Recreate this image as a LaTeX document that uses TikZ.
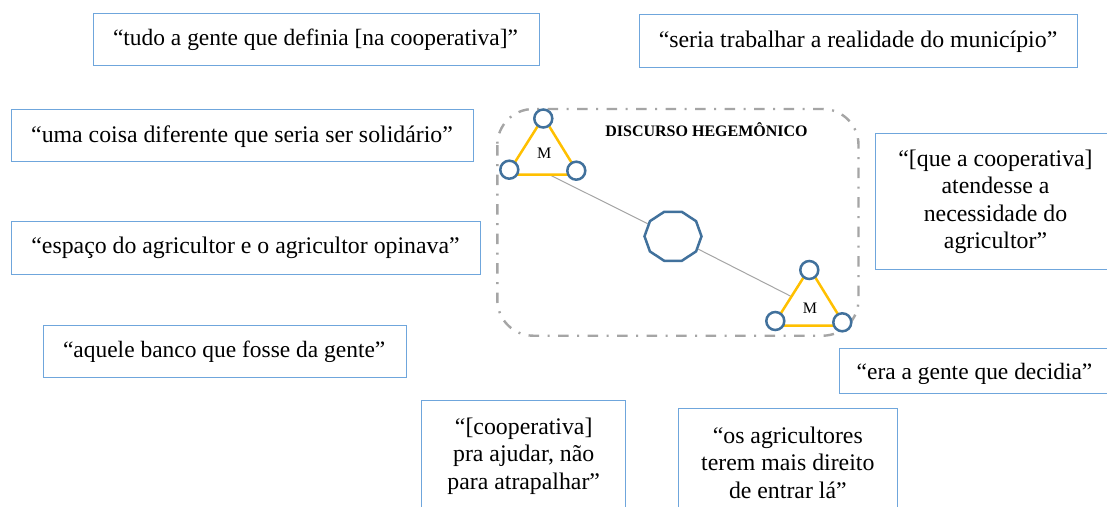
\documentclass[tikz,border=0pt]{standalone}
\usepackage{fontspec}
\setmainfont{Liberation Serif}
\usetikzlibrary{shapes.geometric}
\definecolor{boxblue}{HTML}{6FA6DC}
\definecolor{ringblue}{HTML}{41719C}
\definecolor{triyellow}{HTML}{FFC000}
\definecolor{midgray}{HTML}{A5A5A5}
\tikzset{
  quote/.style={draw=boxblue,line width=0.9pt,fill=white,rectangle},
  qtext/.style={font=\fontsize{23.8}{27.5}\selectfont,align=center,inner sep=0pt,anchor=center},
  qtextsmall/.style={qtext,font=\fontsize{23.45}{27.5}\selectfont},
  ring/.style={circle,draw=ringblue,line width=2.5pt,fill=white,minimum size=18pt,inner sep=0pt},
  tri/.style={draw=triyellow,line width=2.5pt,line join=round},
  link/.style={draw=midgray,line width=1pt},
  frame/.style={draw=midgray,line width=2.4pt,rounded corners=36pt,dash pattern=on 10.5pt off 8.5pt on 2pt off 8.5pt},
  mark label/.style={font=\fontsize{16}{18}\selectfont,inner sep=0pt,anchor=base},
  title label/.style={font=\bfseries\fontsize{16}{18}\selectfont,inner sep=0pt,anchor=base},
  deca/.style={regular polygon,regular polygon sides=10,draw=ringblue,line width=2.5pt,fill=white,minimum size=51.5pt,inner sep=0pt,xscale=1.107,transform shape}
}
\begin{document}
\begin{tikzpicture}[x=1pt,y=-1pt]
\useasboundingbox (0,0) rectangle (1107,506);
\clip (0,0) rectangle (1107,506);
\fill[white] (0,0) rectangle (1107,506);
\path[quote] (93.3,13.3) rectangle (539,65.7);
\node[qtextsmall] (q1) at (315.5,40.2) {“tudo a gente que definia [na cooperativa]”};
\path[quote] (639.3,14.5) rectangle (1077.7,67.5);
\node[qtext] (q2) at (858,42.2) {“seria trabalhar a realidade do município”};
\path[quote] (11,109.3) rectangle (473,161.7);
\node[qtext] (q3) at (242,136.2) {“uma coisa diferente que seria ser solidário”};
\path[quote] (11.3,221.7) rectangle (480.7,274.3);
\node[qtext] (q4) at (245.5,247.8) {“espaço do agricultor e o agricultor opinava”};
\path[quote] (43,325) rectangle (406.7,377.7);
\node[qtextsmall] (q5) at (224.2,352.2) {“aquele banco que fosse da gente”};
\path[quote] (875.3,133.3) rectangle (1112,269);
\node[qtext] (q6) at (995.5,201.6) {“[que a cooperativa]\\atendesse a\\necessidade do\\agricultor”};
\path[quote] (839,348.3) rectangle (1112,393.3);
\node[qtextsmall] (q7) at (974.5,373.5) {“era a gente que decidia”};
\path[quote] (421.3,400.7) rectangle (625.6,520);
\node[qtext] (q8) at (523.7,456) {“[cooperativa]\\pra ajudar, não\\para atrapalhar”};
\path[quote] (678.4,408.3) rectangle (897.5,520);
\node[qtext] (q9) at (787.8,462.7) {“os agricultores\\terem mais direito\\de entrar lá”};
\path[frame] (497.3,109) rectangle (858.5,335.7);
\node[title label] (title) at (706.5,136) {DISCURSO HEGEMÔNICO};
\coordinate (a1) at (543.5,117);
\coordinate (a2) at (507,174.7);
\coordinate (a3) at (579,174.7);
\coordinate (b1) at (809.5,268);
\coordinate (b2) at (773,325.7);
\coordinate (b3) at (845,325.7);
\coordinate (l1) at (550,175);
\coordinate (l2) at (791.7,296.7);
\node[deca,draw=none,fill=none] (hub) at (673,236.3) {};
\draw[link] (l1) -- (hub);
\draw[link] (hub) -- (l2);
\node[deca] at (673,236.3) {};
\draw[tri] (a1) -- (a2) -- (a3) -- cycle;
\draw[tri] (b1) -- (b2) -- (b3) -- cycle;
\node[ring] (r1) at (543.3,118.5) {};
\node[ring] (r2) at (509.3,169.7) {};
\node[ring] (r3) at (576.3,170.7) {};
\node[ring] (r4) at (809.3,270) {};
\node[ring] (r5) at (775.3,321) {};
\node[ring] (r6) at (842.3,322.3) {};
\node[mark label] (m1) at (544.3,158.3) {M};
\node[mark label] (m2) at (810,313.3) {M};
\end{tikzpicture}
\end{document}
